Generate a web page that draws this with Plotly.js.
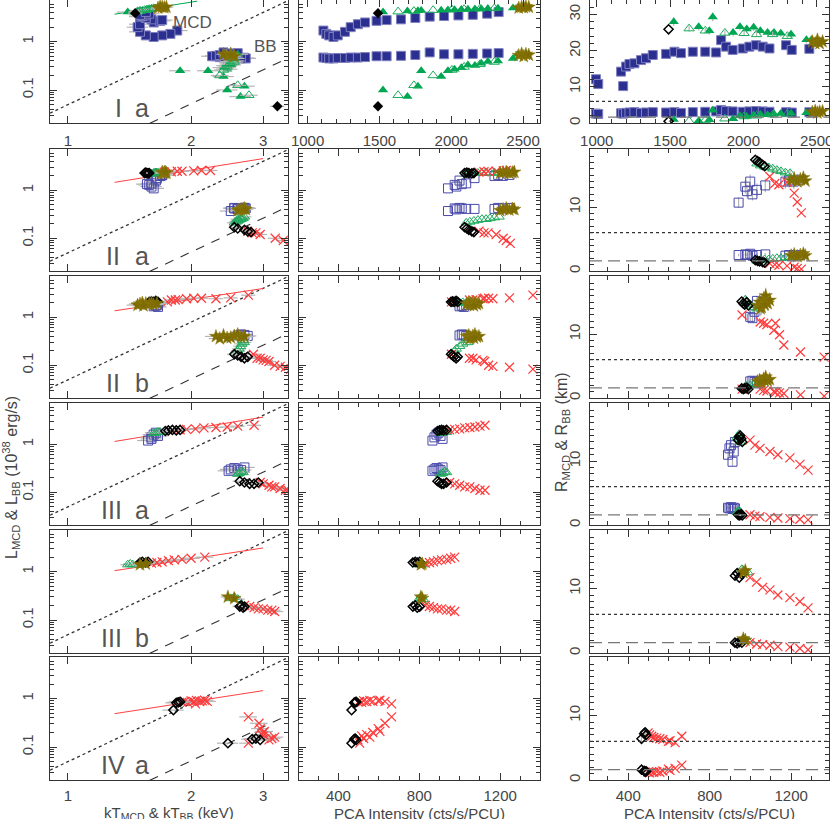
<!DOCTYPE html>
<html><head><meta charset="utf-8">
<script src="https://cdn.plot.ly/plotly-3.0.1.min.js"></script>
<style>html,body{margin:0;padding:0;background:#fff}</style>
</head><body><div id="chart" style="width:830px;height:819px"></div>
<script>
// ---------------- DATA ----------------
// Row 1 (I a)
const r1BlueI    = [1110,1130,1150,1180,1210,1260,1300,1350,1400,1480,1550,1650,1750,1850,1950,2050,2150,2250,2330];
const r1BlueLmcd = [1.70,1.45,1.35,1.25,1.35,1.60,2.00,2.30,2.50,2.70,2.80,2.90,3.10,3.30,3.40,3.50,3.60,3.80,4.10];
const r1BlueLbb  = [0.47,0.46,0.45,0.45,0.46,0.46,0.47,0.47,0.48,0.50,0.50,0.51,0.53,0.60,0.55,0.55,0.56,0.57,0.58];
const r1BlueTmcd = [1.85,1.78,1.70,1.62,1.55,1.50,1.48,1.50,1.62,1.68,1.70,1.60,1.55,1.50,1.52,1.55,1.50,1.58,1.55];
const r1BlueTbb  = [2.60,2.70,2.72,2.65,2.55,2.50,2.45,2.40,2.35,2.30,2.25,2.30,2.35,2.40,2.45,2.50,2.55,2.50,2.60];
const r1BlueIR   = [995,1010,1166,1180,1200,1223,1257,1302,1336,1382,1473,1530,1575,1655,1740,1814,1848,1882,1927,1996,2041,2087,2132,2178,2291,2330,2450];
const r1BlueRmcd = [12.1,10.8,14.2,10.2,15.6,16.3,16.5,17.4,17.9,18.8,19.1,19.7,19.3,19.7,19.7,19.5,22.9,21.1,20.2,20.6,21.1,21.5,21.1,20.6,21.5,20.2,20.5];
const r1BlueRbb  = [2.6,2.5,2.7,2.6,2.8,2.9,3.0,2.8,2.9,3.0,2.9,3.0,2.8,3.0,3.1,3.2,3.6,3.3,3.2,3.1,3.2,3.3,3.2,3.1,3.0,2.9,3.0];

const r1GreenI    = [1525,1695,1768,1791,1930,1977,2023,2070,2116,2165,2209,2255,2325,2430,2464];
const r1GreenLmcd = [4.10,4.30,4.35,4.40,4.50,4.55,4.60,4.65,4.70,4.75,4.80,4.85,4.90,5.00,5.10];
const r1GreenLbb  = [0.100,0.073,0.120,0.250,0.190,0.250,0.270,0.290,0.330,0.320,0.360,0.390,0.400,0.450,0.550];
const r1GreenTmcd = [1.40,1.48,1.50,1.52,1.55,1.56,1.57,1.58,1.60,1.60,1.62,1.62,1.64,1.66,1.68];
const r1GreenTbb  = [2.45,2.64,2.70,1.88,2.40,2.20,2.45,2.40,2.50,2.45,2.50,2.50,2.55,2.55,2.60];
const r1GreenRmcd = [28.0,26.6,25.5,29.3,25.0,26.6,26.0,26.5,25.5,25.0,25.0,24.8,24.5,23.0,23.0];
const r1GreenRbb  = [1.0,0.6,0.9,3.5,1.2,2.0,1.8,2.2,2.4,2.3,2.5,2.6,2.7,2.8,3.0];

const r1GreenOI    = [1630,1740,1874,2005,2090,2200,2300];
const r1GreenOLmcd = [4.20,4.30,4.50,4.60,4.70,4.80,4.90];
const r1GreenOLbb  = [0.078,0.125,0.200,0.260,0.300,0.340,0.380];
const r1GreenOTmcd = [1.48,1.50,1.54,1.56,1.58,1.60,1.62];
const r1GreenOTbb  = [2.77,2.60,2.35,2.40,2.45,2.50,2.55];
const r1GreenORmcd = [26.1,25.5,24.9,24.8,24.5,24.5,24.0];
const r1GreenORbb  = [0.5,0.8,1.2,1.8,2.0,2.3,2.5];

const r1StarI    = [2470,2490,2505,2520,2540];
const r1StarLmcd = [5.0,5.2,5.1,5.3,5.2];
const r1StarLbb  = [0.52,0.56,0.50,0.55,0.53];
const r1StarTmcd = [1.66,1.70,1.72,1.68,1.74];
const r1StarTbb  = [2.45,2.50,2.55,2.40,2.50];
const r1StarRmcd = [22.5,22.0,23.0,22.0,22.5];
const r1StarRbb  = [3.0,3.3,2.8,3.1,3.2];

const r1DiaI = [1490], r1DiaLmcd = [3.9], r1DiaLbb = [0.046], r1DiaTmcd = [1.46], r1DiaTbb = [3.25], r1DiaRmcd = [25.9], r1DiaRbb = [0.5];

// Row 2 (II a)
const r2BlueI    = [942,975,983,999,1010,1032,1073,1172,1190,1213,1246];
const r2BlueLmcd = [1.10,1.30,1.20,1.60,1.35,1.40,1.80,2.00,2.10,2.00,2.10];
const r2BlueLbb  = [0.37,0.42,0.40,0.43,0.42,0.41,0.41,0.41,0.43,0.42,0.43];
const r2BlueTmcd = [1.62,1.58,1.60,1.64,1.56,1.60,1.65,1.68,1.70,1.68,1.70];
const r2BlueTbb  = [2.50,2.55,2.60,2.55,2.60,2.60,2.65,2.68,2.70,2.72,2.70];
const r2BlueRmcd = [10.7,13.2,12.5,14.0,12.0,12.7,13.4,14.0,14.2,14.0,14.3];
const r2BlueRbb  = [2.5,2.6,2.5,2.7,2.4,2.5,2.6,2.4,2.5,2.4,2.5];

const r2GreenI    = [1032,1050,1070,1090,1110,1130,1150,1172,1195];
const r2GreenLmcd = [2.20,2.25,2.30,2.30,2.30,2.35,2.30,2.35,2.30];
const r2GreenLbb  = [0.21,0.22,0.23,0.24,0.25,0.25,0.26,0.27,0.28];
const r2GreenTmcd = [1.60,1.62,1.63,1.64,1.62,1.65,1.66,1.64,1.67];
const r2GreenTbb  = [2.55,2.58,2.60,2.62,2.60,2.65,2.68,2.65,2.70];
const r2GreenRmcd = [16.8,16.5,16.3,16.2,16.0,15.8,15.6,15.4,15.3];
const r2GreenRbb  = [1.6,1.7,1.8,1.8,1.9,2.0,2.0,2.1,2.2];

const r2StarI    = [1200,1215,1230,1245,1260,1270];
const r2StarLmcd = [2.30,2.35,2.40,2.30,2.35,2.40];
const r2StarLbb  = [0.38,0.40,0.42,0.39,0.41,0.40];
const r2StarTmcd = [1.70,1.72,1.70,1.74,1.72,1.73];
const r2StarTbb  = [2.60,2.65,2.70,2.62,2.68,2.72];
const r2StarRmcd = [14.2,14.5,14.0,14.3,14.6,14.1];
const r2StarRbb  = [2.4,2.6,2.3,2.5,2.7,2.4];

const r2DiaI    = [1024,1035,1045,1060,1070];
const r2DiaLmcd = [2.30,2.35,2.30,2.25,2.30];
const r2DiaLbb  = [0.17,0.16,0.15,0.14,0.135];
const r2DiaTmcd = [1.54,1.55,1.56,1.57,1.58];
const r2DiaTbb  = [2.55,2.60,2.70,2.75,2.80];
const r2DiaRmcd = [17.4,17.2,17.0,16.6,16.4];
const r2DiaRbb  = [1.7,1.6,1.5,1.4,1.3];

const r2RedI    = [1095,1120,1140,1180,1215,1230,1250];
const r2RedLmcd = [2.40,2.45,2.50,2.50,2.55,2.60,2.60];
const r2RedLbb  = [0.14,0.13,0.13,0.12,0.10,0.09,0.078];
const r2RedTmcd = [1.72,1.79,1.85,1.90,2.03,2.12,2.23];
const r2RedTbb  = [2.75,2.82,2.88,2.95,3.21,3.36,3.55];
const r2RedRmcd = [14.8,13.7,13.5,13.9,12.2,10.8,9.1];
const r2RedRbb  = [1.2,1.0,0.9,0.8,0.6,0.4,0.3];

// Row 3 (II b)
const r3BlueI    = [999,1010,1020,1032];
const r3BlueLmcd = [1.70,1.75,1.65,1.80];
const r3BlueLbb  = [0.42,0.44,0.43,0.41];
const r3BlueTmcd = [1.62,1.64,1.66,1.65];
const r3BlueTbb  = [2.60,2.65,2.70,2.75];
const r3BlueRmcd = [12.7,12.5,13.5,15.2];
const r3BlueRbb  = [2.6,2.7,2.5,2.6];

const r3GreenI    = [975,983,1000,1015,1032,1040];
const r3GreenLmcd = [2.00,2.05,2.00,2.05,2.00,2.10];
const r3GreenLbb  = [0.20,0.22,0.25,0.28,0.33,0.30];
const r3GreenTmcd = [1.60,1.62,1.63,1.64,1.65,1.66];
const r3GreenTbb  = [2.60,2.62,2.64,2.66,2.68,2.70];
const r3GreenRmcd = [15.4,15.0,14.6,14.2,14.0,14.4];
const r3GreenRbb  = [1.8,1.9,2.0,2.0,2.1,2.0];

const r3StarI    = [1035,1045,1055,1065,1075,1085,1095,1050,1070];
const r3StarLmcd = [1.90,2.00,1.95,1.90,2.00,1.85,1.95,1.80,1.75];
const r3StarLbb  = [0.40,0.42,0.38,0.41,0.44,0.39,0.40,0.36,0.37];
const r3StarTmcd = [1.50,1.52,1.55,1.58,1.60,1.62,1.65,1.48,1.53];
const r3StarTbb  = [2.30,2.40,2.50,2.55,2.60,2.65,2.70,2.35,2.45];
const r3StarRmcd = [14.5,15.0,14.2,15.5,16.0,14.8,15.3,14.0,14.6];
const r3StarRbb  = [2.6,2.8,2.5,3.0,3.3,2.7,2.9,2.5,2.7];

const r3DiaI    = [957,965,972,982,990];
const r3DiaLmcd = [2.10,2.15,2.10,2.20,2.10];
const r3DiaLbb  = [0.17,0.16,0.15,0.14,0.15];
const r3DiaTmcd = [1.58,1.60,1.62,1.64,1.66];
const r3DiaTbb  = [2.55,2.60,2.65,2.70,2.75];
const r3DiaRmcd = [15.1,14.8,14.6,15.0,14.5];
const r3DiaRbb  = [1.5,1.4,1.5,1.6,1.4];

const r3RedI    = [959,1048,1065,1081,1115,1123,1143,1164,1246,1362];
const r3RedLmcd = [2.10,2.30,2.30,2.35,2.45,2.50,2.50,2.45,2.55,2.90];
const r3RedLbb  = [0.17,0.14,0.14,0.13,0.127,0.12,0.10,0.095,0.091,0.083];
const r3RedTmcd = [1.75,1.79,1.83,1.86,1.95,2.03,2.12,2.30,2.50,2.76];
const r3RedTbb  = [2.84,2.90,2.95,3.00,3.05,3.10,3.20,3.30,3.40,3.50];
const r3RedRmcd = [13.0,11.9,11.7,11.5,10.6,11.7,9.9,8.3,7.2,6.4];
const r3RedRbb  = [1.4,1.4,1.2,1.1,1.0,0.9,0.8,0.7,0.5,0.3];

// Row 4 (III a)
const r4BlueI    = [865,875,885,895,905,915];
const r4BlueIR   = [890,897,905,912,918,924];
const r4BlueLmcd = [1.20,1.40,1.60,1.75,1.50,1.30];
const r4BlueLbb  = [0.28,0.30,0.32,0.30,0.29,0.33];
const r4BlueTmcd = [1.57,1.60,1.62,1.64,1.66,1.60];
const r4BlueTbb  = [2.47,2.50,2.55,2.60,2.65,2.70];
const r4BlueRmcd = [11.0,12.0,12.5,9.9,11.5,13.0];
const r4BlueRbb  = [2.7,2.6,2.8,2.5,2.7,2.6];

const r4GreenI    = [905,915,925,935];
const r4GreenIR   = [935,940,945,950];
const r4GreenLmcd = [1.70,1.75,1.80,1.80];
const r4GreenLbb  = [0.24,0.25,0.27,0.26];
const r4GreenTmcd = [1.62,1.64,1.66,1.68];
const r4GreenTbb  = [2.60,2.62,2.65,2.68];
const r4GreenRmcd = [13.8,13.5,14.2,13.0];
const r4GreenRbb  = [2.0,2.1,2.2,2.0];

const r4DiaI    = [890,900,910,920,935];
const r4DiaIR   = [940,945,950,955,960];
const r4DiaLmcd = [1.90,1.95,2.00,1.95,2.00];
const r4DiaLbb  = [0.17,0.16,0.15,0.15,0.16];
const r4DiaTmcd = [1.73,1.76,1.80,1.84,1.88];
const r4DiaTbb  = [2.63,2.70,2.78,2.85,2.92];
const r4DiaRmcd = [13.3,13.8,14.0,13.5,13.0];
const r4DiaRbb  = [1.6,1.5,1.6,1.7,1.5];

const r4RedI    = [950,975,1000,1025,1050,1075,1100,1125];
const r4RedIR   = [998,1022,1047,1096,1135,1194,1243,1283];
const r4RedLmcd = [2.00,2.05,2.10,2.20,2.25,2.30,2.40,2.50];
const r4RedLbb  = [0.16,0.15,0.14,0.13,0.13,0.12,0.11,0.11];
const r4RedTmcd = [1.88,1.95,2.05,2.15,2.30,2.45,2.60,2.85];
const r4RedTbb  = [2.95,3.00,3.10,3.15,3.20,3.30,3.40,3.45];
const r4RedRmcd = [13.3,12.5,12.0,11.5,11.0,10.5,9.5,8.6];
const r4RedRbb  = [1.6,1.4,1.3,1.2,1.1,1.0,0.9,0.8];

// Row 5 (III b)
const r5GreenI    = [800,810,820];
const r5GreenIR   = [958,970,988];
const r5GreenLmcd = [1.40,1.45,1.40];
const r5GreenLbb  = [0.28,0.30,0.27];
const r5GreenTmcd = [1.40,1.42,1.44];
const r5GreenTbb  = [2.50,2.55,2.60];
const r5GreenRmcd = [13.0,12.8,12.5];
const r5GreenRbb  = [2.0,2.1,1.9];

const r5StarI    = [808,815];
const r5StarIR   = [965,975];
const r5StarLmcd = [1.40,1.45];
const r5StarLbb  = [0.30,0.28];
const r5StarTmcd = [1.50,1.55];
const r5StarTbb  = [2.46,2.55];
const r5StarRmcd = [12.5,12.8];
const r5StarRbb  = [2.2,2.0];

const r5DiaI    = [768,780,790,802];
const r5DiaIR   = [924,935,945,958];
const r5DiaLmcd = [1.55,1.60,1.55,1.60];
const r5DiaLbb  = [0.19,0.20,0.18,0.19];
const r5DiaTmcd = [1.50,1.52,1.55,1.57];
const r5DiaTbb  = [2.63,2.65,2.68,2.70];
const r5DiaRmcd = [12.0,12.4,11.7,12.2];
const r5DiaRbb  = [1.6,1.5,1.7,1.6];

const r5RedI    = [830,850,870,890,910,935,955,975];
const r5RedIR   = [998,1030,1060,1096,1135,1194,1243,1283];
const r5RedLmcd = [1.50,1.55,1.60,1.70,1.75,1.80,1.90,2.00];
const r5RedLbb  = [0.20,0.19,0.18,0.17,0.17,0.16,0.16,0.15];
const r5RedTmcd = [1.60,1.65,1.70,1.76,1.82,1.90,2.00,2.16];
const r5RedTbb  = [2.70,2.78,2.85,2.92,3.00,3.08,3.15,3.20];
const r5RedRmcd = [11.7,11.0,10.2,9.8,9.0,8.6,8.0,7.0];
const r5RedRbb  = [1.6,1.4,1.3,1.2,1.0,0.9,0.7,0.5];

// Row 6 (IV a)
const r6DiaI    = [465,478,483,488];
const r6DiaLmcd = [0.58,0.82,0.84,0.86];
const r6DiaLbb  = [0.12,0.145,0.15,0.14];
const r6DiaTmcd = [1.81,1.84,1.86,1.88];
const r6DiaTbb  = [2.46,2.82,2.88,2.95];
const r6DiaRmcd = [6.4,7.2,7.4,7.0];
const r6DiaRbb  = [1.6,1.4,1.3,1.35];

const r6RedI    = [497,505,515,525,540,555,570,597,605,630,663];
const r6RedLmcd = [0.85,0.88,0.84,0.90,0.87,0.92,0.88,0.90,0.93,0.88,0.78];
const r6RedLbb  = [0.14,0.12,0.17,0.15,0.18,0.16,0.20,0.24,0.21,0.31,0.42];
const r6RedTmcd = [1.90,1.93,1.96,2.00,2.03,2.06,2.10,2.13,2.16,2.19,2.05];
const r6RedTbb  = [3.10,2.76,3.00,3.15,2.98,3.20,3.00,2.95,3.02,2.93,2.76];
const r6RedRmcd = [7.3,7.0,6.8,6.6,6.5,6.4,6.3,6.0,6.1,5.8,6.8];
const r6RedRbb  = [1.2,1.1,1.3,1.2,1.3,1.2,1.4,1.7,1.5,1.8,2.3];

// Reference lines (constant-radius L ~ T^4) and fits
const refDotT  = [0.904, 3.45], refDotL  = [0.0332, 7.06];
const refDashT = [1.585, 3.45], refDashL = [0.0204, 0.458];
const fitT = [1.30, 3.00];
const fitL = [[3.7, 8.4], [1.47, 4.6], [1.37, 4.0], [1.15, 3.7], [1.05, 3.1], [0.49, 1.47]];
const fitT1 = [1.30, 2.07], fitL1 = [3.7, 6.9];
const radDotted = 6.0, radDashed = 1.6;
const rowNumerals = ['I','II','II','III','III','IV'];
const rowLetters  = ['a','a','b','a','b','a'];

// ---------------- STYLE / LAYOUT ----------------
const W = 830, H = 819;
const colPx = [[50,288],[299,540],[590,829]];
const rowPx = [[0,123],[149,271],[276,398],[403,525],[530,653],[657,780]];
const errc = '#b5b5b5';
const STY = {
  blueF:  {symbol:'square', color:'#2b2f8f', size:9, line:{color:'#8080c0', width:1}},
  blueO:  {symbol:'square-open', color:'#4a4aaa', size:9, line:{color:'#4a4aaa', width:1}},
  greenF: {symbol:'triangle-up', color:'#00a651', size:9, line:{color:'#00a651', width:0}},
  greenO: {symbol:'triangle-up-open', color:'#1daa5c', size:9, line:{color:'#1daa5c', width:1}},
  star:   {symbol:'star', color:'#7d6b00', size:10, line:{color:'#8f7d10', width:0.5}},
  diaF:   {symbol:'diamond', color:'#000', size:8, line:{color:'#000', width:0}},
  diaO:   {symbol:'diamond-open', color:'#000', size:7, line:{color:'#000', width:1.5}},
  redX:   {symbol:'x-thin', color:'#ff3a3a', size:9, line:{color:'#ff3a3a', width:1.2}}
};

function G(row, I, Lm, Lb, Tm, Tb, Rm, Rb, mk, opt) {
  return Object.assign({row, I, Lm, Lb, Tm, Tb, Rm, Rb, mk}, opt || {});
}
const groups = [
  G(0, r1BlueI, r1BlueLmcd, r1BlueLbb, r1BlueTmcd, r1BlueTbb, r1BlueRmcd, r1BlueRbb, STY.blueF, {IR: r1BlueIR, ex: 6, ey: 4}),
  G(0, r1GreenI, r1GreenLmcd, r1GreenLbb, r1GreenTmcd, r1GreenTbb, r1GreenRmcd, r1GreenRbb, STY.greenF, {ex: 6, ey: 4}),
  G(0, r1GreenOI, r1GreenOLmcd, r1GreenOLbb, r1GreenOTmcd, r1GreenOTbb, r1GreenORmcd, r1GreenORbb, STY.greenO, {ex: 5, ey: 3}),
  G(0, r1DiaI, r1DiaLmcd, r1DiaLbb, r1DiaTmcd, r1DiaTbb, r1DiaRmcd, r1DiaRbb, STY.diaF, {mkR: STY.diaO, ex: 4}),
  G(0, r1StarI, r1StarLmcd, r1StarLbb, r1StarTmcd, r1StarTbb, r1StarRmcd, r1StarRbb, STY.star, {ex: 4, ey: 3}),

  G(1, r2BlueI, r2BlueLmcd, r2BlueLbb, r2BlueTmcd, r2BlueTbb, r2BlueRmcd, r2BlueRbb, STY.blueO, {ex: 6, ey: 8}),
  G(1, r2GreenI, r2GreenLmcd, r2GreenLbb, r2GreenTmcd, r2GreenTbb, r2GreenRmcd, r2GreenRbb, STY.greenO, {ex: 4, ey: 3}),
  G(1, r2RedI, r2RedLmcd, r2RedLbb, r2RedTmcd, r2RedTbb, r2RedRmcd, r2RedRbb, STY.redX, {ex: 4}),
  G(1, r2DiaI, r2DiaLmcd, r2DiaLbb, r2DiaTmcd, r2DiaTbb, r2DiaRmcd, r2DiaRbb, STY.diaO, {ex: 3}),
  G(1, r2StarI, r2StarLmcd, r2StarLbb, r2StarTmcd, r2StarTbb, r2StarRmcd, r2StarRbb, STY.star, {ex: 4, ey: 3}),

  G(2, r3BlueI, r3BlueLmcd, r3BlueLbb, r3BlueTmcd, r3BlueTbb, r3BlueRmcd, r3BlueRbb, STY.blueO, {ex: 5, ey: 5}),
  G(2, r3GreenI, r3GreenLmcd, r3GreenLbb, r3GreenTmcd, r3GreenTbb, r3GreenRmcd, r3GreenRbb, STY.greenO, {ex: 4, ey: 4}),
  G(2, r3RedI, r3RedLmcd, r3RedLbb, r3RedTmcd, r3RedTbb, r3RedRmcd, r3RedRbb, STY.redX, {ex: 4}),
  G(2, r3DiaI, r3DiaLmcd, r3DiaLbb, r3DiaTmcd, r3DiaTbb, r3DiaRmcd, r3DiaRbb, STY.diaO, {ex: 4}),
  G(2, r3StarI, r3StarLmcd, r3StarLbb, r3StarTmcd, r3StarTbb, r3StarRmcd, r3StarRbb, STY.star, {ex: 6, ey: 8}),

  G(3, r4BlueI, r4BlueLmcd, r4BlueLbb, r4BlueTmcd, r4BlueTbb, r4BlueRmcd, r4BlueRbb, STY.blueO, {IR: r4BlueIR, ex: 6, ey: 8}),
  G(3, r4GreenI, r4GreenLmcd, r4GreenLbb, r4GreenTmcd, r4GreenTbb, r4GreenRmcd, r4GreenRbb, STY.greenO, {IR: r4GreenIR, ex: 4, ey: 4}),
  G(3, r4RedI, r4RedLmcd, r4RedLbb, r4RedTmcd, r4RedTbb, r4RedRmcd, r4RedRbb, STY.redX, {IR: r4RedIR, ex: 4}),
  G(3, r4DiaI, r4DiaLmcd, r4DiaLbb, r4DiaTmcd, r4DiaTbb, r4DiaRmcd, r4DiaRbb, STY.diaO, {IR: r4DiaIR, ex: 4}),

  G(4, r5GreenI, r5GreenLmcd, r5GreenLbb, r5GreenTmcd, r5GreenTbb, r5GreenRmcd, r5GreenRbb, STY.greenO, {IR: r5GreenIR, ex: 4, ey: 4}),
  G(4, r5RedI, r5RedLmcd, r5RedLbb, r5RedTmcd, r5RedTbb, r5RedRmcd, r5RedRbb, STY.redX, {IR: r5RedIR, ex: 5}),
  G(4, r5DiaI, r5DiaLmcd, r5DiaLbb, r5DiaTmcd, r5DiaTbb, r5DiaRmcd, r5DiaRbb, STY.diaO, {IR: r5DiaIR, ex: 4}),
  G(4, r5StarI, r5StarLmcd, r5StarLbb, r5StarTmcd, r5StarTbb, r5StarRmcd, r5StarRbb, STY.star, {IR: r5StarIR, ex: 4}),

  G(5, r6RedI, r6RedLmcd, r6RedLbb, r6RedTmcd, r6RedTbb, r6RedRmcd, r6RedRbb, STY.redX, {ex: 5, ey: 6}),
  G(5, r6DiaI, r6DiaLmcd, r6DiaLbb, r6DiaTmcd, r6DiaTbb, r6DiaRmcd, r6DiaRbb, STY.diaO, {ex: 6, ey: 8})
];

function ax(n) { return n === 1 ? '' : String(n); }
const traces = [];
function sc(x, y, n, mk, ex, ey) {
  const t = {type:'scatter', mode:'markers', x, y, xaxis:'x'+ax(n), yaxis:'y'+ax(n),
             marker: mk, hoverinfo:'skip', cliponaxis:true};
  if (ex) t.error_x = {type:'percent', value:ex, color:errc, thickness:1.2, width:0};
  if (ey) t.error_y = {type:'percent', value:ey, color:errc, thickness:1.2, width:0};
  return t;
}
function ln(x, y, n, color, dash, width) {
  return {type:'scatter', mode:'lines', x, y, xaxis:'x'+ax(n), yaxis:'y'+ax(n),
          line:{color, dash, width}, hoverinfo:'skip'};
}

const layout = {
  width: W, height: H, margin:{l:0,r:0,t:0,b:0}, showlegend:false,
  paper_bgcolor:'#fff', plot_bgcolor:'#fff',
  font:{family:'Liberation Sans, Arial, sans-serif', color:'#444', size:15},
  annotations:[], shapes:[]
};

const base = {showline:true, linecolor:'#333', linewidth:1, mirror:'allticks', ticks:'inside',
  ticklen:7, tickwidth:1, tickcolor:'#333', showgrid:false, zeroline:false, fixedrange:true,
  ticklabeloverflow:'allow', tickfont:{size:15, color:'#444'}};

for (let r = 0; r < 6; r++) {
  for (let c = 0; c < 3; c++) {
    const n = r*3 + c + 1;
    const xa = Object.assign({}, base, {domain:[colPx[c][0]/W, colPx[c][1]/W], anchor:'y'+ax(n)});
    const ya = Object.assign({}, base, {domain:[1-rowPx[r][1]/H, 1-rowPx[r][0]/H], anchor:'x'+ax(n)});
    const showX = (r === 0 || r === 5);
    xa.showticklabels = showX;
    xa.ticklabelstandoff = (r === 5) ? 2 : 4;
    if (c === 0) {
      xa.type = 'log'; xa.range = [Math.log10(0.904), Math.log10(3.45)];
      xa.tickmode = 'array'; xa.tickvals = [1,2,3]; xa.ticktext = ['1','2','3'];
      ya.type = 'log'; ya.range = [-1.683, 0.863];
      ya.tickmode = 'array'; ya.tickvals = [0.1, 1]; ya.ticktext = ['0.1','1'];
      ya.minor = {tickmode:'array', tickvals:[0.03,0.04,0.05,0.06,0.07,0.08,0.09,0.2,0.3,0.4,0.5,0.6,0.7,0.8,0.9,2,3,4,5,6,7], ticklen:4, ticks:'inside', tickcolor:'#333'};
      ya.tickangle = -90; ya.ticklabelstandoff = 10;
    } else if (c === 1) {
      ya.type = 'log'; ya.range = [-1.683, 0.863];
      ya.tickmode = 'array'; ya.tickvals = [0.1, 1];
      ya.minor = {tickmode:'array', tickvals:[0.03,0.04,0.05,0.06,0.07,0.08,0.09,0.2,0.3,0.4,0.5,0.6,0.7,0.8,0.9,2,3,4,5,6,7], ticklen:4, ticks:'inside', tickcolor:'#333'};
      ya.showticklabels = false;
      if (r === 0) { xa.range = [940, 2618]; xa.tickmode='array'; xa.tickvals = [1000,1500,2000,2500]; }
      else { xa.range = [205, 1397]; xa.tickmode='array'; xa.tickvals = [400,800,1200]; }
      xa.minor = {dtick:100, tick0:0, ticklen:4, ticks:'inside', tickcolor:'#333'};
    } else {
      if (r === 0) {
        xa.range = [954, 2584]; xa.tickmode='array'; xa.tickvals = [1000,1500,2000,2500];
        ya.range = [0, 34]; ya.tickmode='array'; ya.tickvals = [0,10,20,30];
        ya.minor = {dtick:2, tick0:0, ticklen:4, ticks:'inside', tickcolor:'#333'};
      } else {
        xa.range = [212, 1386]; xa.tickmode='array'; xa.tickvals = [400,800,1200];
        ya.range = [0, 19.1]; ya.tickmode='array'; ya.tickvals = [0,10];
        ya.minor = {dtick:1, tick0:0, ticklen:4, ticks:'inside', tickcolor:'#333'};
      }
      xa.minor = {dtick:100, tick0:0, ticklen:4, ticks:'inside', tickcolor:'#333'};
      ya.tickangle = -90; ya.ticklabelstandoff = 3;
    }
    layout['xaxis'+ax(n)] = xa;
    layout['yaxis'+ax(n)] = ya;

    if (c === 0) {
      traces.push(ln(refDotT, refDotL, n, '#333', 'dot', 1.3));
      traces.push(ln(refDashT, refDashL, n, '#333', '9px,8px', 1.1));
      if (r === 0) traces.push(ln(fitT1, fitL1, n, '#00a651', 'solid', 1));
      else traces.push(ln(fitT, fitL[r], n, '#ff4040', 'solid', 1));
    }
    if (c === 2) {
      layout.shapes.push({type:'line', xref:'x'+ax(n)+' domain', yref:'y'+ax(n), x0:0, x1:1, y0:radDotted, y1:radDotted, line:{color:'#333', width:1.2, dash:'dot'}});
      layout.shapes.push({type:'line', xref:'x'+ax(n)+' domain', yref:'y'+ax(n), x0:0, x1:1, y0:radDashed, y1:radDashed, line:{color:'#777', width:1.2, dash:'12px,6px'}});
    }
  }
}

groups.forEach(g => {
  const nL = g.row*3+1, nM = g.row*3+2, nR = g.row*3+3;
  traces.push(sc(g.Tm, g.Lm, nL, g.mk, g.ex));
  traces.push(sc(g.Tb, g.Lb, nL, g.mk, g.ex));
  traces.push(sc(g.I, g.Lm, nM, g.mk));
  traces.push(sc(g.I, g.Lb, nM, g.mk));
  const IR = g.IR || g.I, mkR = g.mkR || g.mk;
  traces.push(sc(IR, g.Rm, nR, mkR, 0, g.ey));
  traces.push(sc(IR, g.Rb, nR, mkR, 0, g.ey));
});

function ann(text, px, py, size, angle, color) {
  layout.annotations.push({text, xref:'paper', yref:'paper', x:px/W, y:1-py/H, showarrow:false,
    xanchor:'center', yanchor:'middle', textangle:angle||0, font:{size, color:color||'#444'}});
}
for (let r = 0; r < 6; r++) {
  const py = rowPx[r][1] - 15;
  ann(rowNumerals[r], rowNumerals[r].length > 2 ? 111 : (rowNumerals[r].length > 1 ? 113 : 118), py, 25, 0, '#555');
  ann(rowLetters[r], 142, py, 25, 0, '#555');
}
ann('MCD', 192, 22, 17, 0, '#555');
ann('BB', 265, 46, 17, 0, '#555');
ann('L<sub>MCD</sub> & L<sub>BB</sub> (10<sup>38</sup> erg/s)', 11, 478, 16, -90);
ann('R<sub>MCD</sub> & R<sub>BB</sub> (km)', 562, 432, 16, -90);
ann('kT<sub>MCD</sub> & kT<sub>BB</sub> (keV)', 169, 813, 15);
ann('PCA Intensity (cts/s/PCU)', 420, 813, 15);
ann('PCA Intensity (cts/s/PCU)', 709, 813, 15);

Plotly.newPlot('chart', traces, layout, {staticPlot:true, displayModeBar:false});
</script></body></html>
